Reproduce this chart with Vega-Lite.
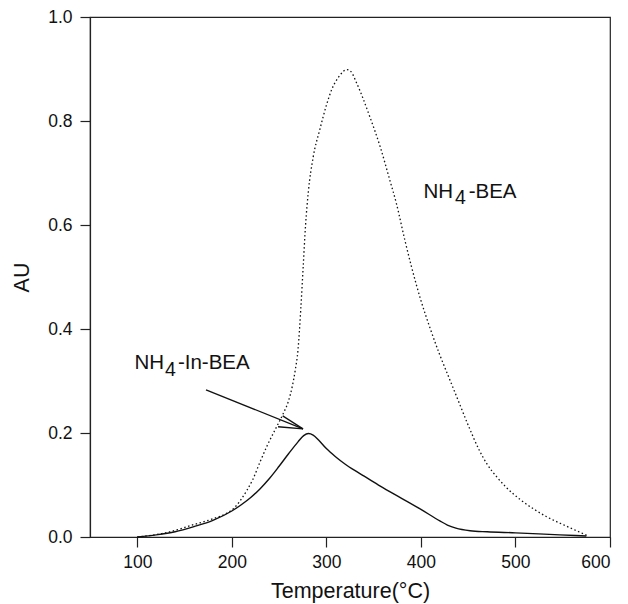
{
  "$schema": "https://vega.github.io/schema/vega-lite/v6.json",
  "width": 520,
  "height": 520,
  "autosize": {"type": "none"},
  "padding": {"left": 90, "top": 17, "right": 18, "bottom": 67},
  "background": "white",
  "config": {
    "font": "Liberation Sans",
    "view": {"stroke": "#222", "strokeWidth": 1.2},
    "axis": {
      "domainColor": "#222", "tickColor": "#222", "tickSize": 10, "tickWidth": 1.2, "domainWidth": 1.2,
      "labelFontSize": 17.5, "labelColor": "#111", "titleFontSize": 21.5, "titleFontWeight": "normal",
      "titleColor": "#111", "labelFont": "Liberation Sans", "titleFont": "Liberation Sans", "grid": false
    }
  },
  "datasets": {
    "bea": [
      {"T": 100, "AU": 0.0}, {"T": 130, "AU": 0.008}, {"T": 160, "AU": 0.024}, {"T": 180, "AU": 0.035},
      {"T": 195, "AU": 0.046}, {"T": 202, "AU": 0.055}, {"T": 209, "AU": 0.07}, {"T": 216, "AU": 0.09},
      {"T": 222, "AU": 0.11}, {"T": 230, "AU": 0.145}, {"T": 238, "AU": 0.178}, {"T": 246, "AU": 0.207},
      {"T": 254, "AU": 0.236}, {"T": 260, "AU": 0.262}, {"T": 264, "AU": 0.29}, {"T": 267, "AU": 0.32},
      {"T": 270, "AU": 0.36}, {"T": 273, "AU": 0.44}, {"T": 275.5, "AU": 0.52}, {"T": 278, "AU": 0.6},
      {"T": 281, "AU": 0.665}, {"T": 286, "AU": 0.73}, {"T": 293, "AU": 0.783}, {"T": 300, "AU": 0.83},
      {"T": 306, "AU": 0.862}, {"T": 314, "AU": 0.887}, {"T": 321.5, "AU": 0.899}, {"T": 326, "AU": 0.895},
      {"T": 332, "AU": 0.873}, {"T": 346, "AU": 0.808}, {"T": 357, "AU": 0.75}, {"T": 367, "AU": 0.687},
      {"T": 374, "AU": 0.642}, {"T": 383, "AU": 0.571}, {"T": 390, "AU": 0.52}, {"T": 400, "AU": 0.455},
      {"T": 410, "AU": 0.4}, {"T": 420, "AU": 0.35}, {"T": 430, "AU": 0.305}, {"T": 440, "AU": 0.26},
      {"T": 450, "AU": 0.215}, {"T": 462, "AU": 0.166}, {"T": 470, "AU": 0.14}, {"T": 480, "AU": 0.116},
      {"T": 490, "AU": 0.096}, {"T": 505, "AU": 0.072}, {"T": 520, "AU": 0.053}, {"T": 533, "AU": 0.039},
      {"T": 555, "AU": 0.02}, {"T": 577, "AU": 0.002}
    ],
    "inbea": [
      {"T": 100, "AU": 0.0}, {"T": 120, "AU": 0.004}, {"T": 140, "AU": 0.01}, {"T": 160, "AU": 0.02},
      {"T": 180, "AU": 0.032}, {"T": 200, "AU": 0.05}, {"T": 210, "AU": 0.062}, {"T": 220, "AU": 0.076},
      {"T": 230, "AU": 0.093}, {"T": 240, "AU": 0.113}, {"T": 250, "AU": 0.136}, {"T": 260, "AU": 0.16},
      {"T": 270, "AU": 0.183}, {"T": 276, "AU": 0.195}, {"T": 281, "AU": 0.199}, {"T": 286, "AU": 0.196},
      {"T": 292, "AU": 0.186}, {"T": 300, "AU": 0.17}, {"T": 310, "AU": 0.154}, {"T": 320, "AU": 0.14},
      {"T": 330, "AU": 0.128}, {"T": 340, "AU": 0.117}, {"T": 357, "AU": 0.098}, {"T": 380, "AU": 0.074},
      {"T": 400, "AU": 0.053}, {"T": 420, "AU": 0.031}, {"T": 428, "AU": 0.023}, {"T": 437, "AU": 0.017},
      {"T": 452, "AU": 0.012}, {"T": 470, "AU": 0.01}, {"T": 500, "AU": 0.008}, {"T": 547, "AU": 0.004},
      {"T": 575, "AU": 0.002}
    ],
    "arrow": [
      {"x": 172.7, "y": 0.283, "x2": 275.3, "y2": 0.208},
      {"x": 253.8, "y": 0.233, "x2": 275.3, "y2": 0.208},
      {"x": 248.9, "y": 0.212, "x2": 275.3, "y2": 0.208}
    ],
    "labels": [
      {"x": 97.1, "y": 0.3225, "text": "NH"},
      {"x": 143.0, "y": 0.3225, "text": "-In-BEA"},
      {"x": 402.8, "y": 0.652, "text": "NH"},
      {"x": 450.5, "y": 0.652, "text": "-BEA"}
    ],
    "subs": [
      {"x": 129.3, "y": 0.3225, "text": "4"},
      {"x": 436, "y": 0.652, "text": "4"}
    ]
  },
  "layer": [
    {
      "data": {"name": "bea"},
      "mark": {"type": "line", "color": "#111", "strokeWidth": 1.3, "strokeDash": [1.5, 2.5], "interpolate": "monotone"},
      "encoding": {
        "x": {"field": "T", "type": "quantitative", "scale": {"domain": [50, 600], "nice": false},
              "axis": {"values": [100, 200, 300, 400, 500, 600], "title": "Temperature(°C)", "labelPadding": 6, "titlePadding": 10}},
        "y": {"field": "AU", "type": "quantitative", "scale": {"domain": [0, 1], "nice": false},
              "axis": {"values": [0, 0.2, 0.4, 0.6, 0.8, 1.0], "format": ".1f", "title": "AU", "labelPadding": 8, "titlePadding": 14}}
      }
    },
    {
      "data": {"name": "inbea"},
      "mark": {"type": "line", "color": "#111", "strokeWidth": 1.4, "interpolate": "monotone"},
      "encoding": {
        "x": {"field": "T", "type": "quantitative"},
        "y": {"field": "AU", "type": "quantitative"}
      }
    },
    {
      "data": {"name": "arrow"},
      "mark": {"type": "rule", "color": "#111", "strokeWidth": 1.3},
      "encoding": {
        "x": {"field": "x", "type": "quantitative"},
        "y": {"field": "y", "type": "quantitative"},
        "x2": {"field": "x2"},
        "y2": {"field": "y2"}
      }
    },
    {
      "data": {"name": "labels"},
      "mark": {"type": "text", "align": "left", "baseline": "alphabetic", "fontSize": 20.5, "color": "#111", "font": "Liberation Sans"},
      "encoding": {
        "x": {"field": "x", "type": "quantitative"},
        "y": {"field": "y", "type": "quantitative"},
        "text": {"field": "text"}
      }
    },
    {
      "data": {"name": "subs"},
      "mark": {"type": "text", "align": "left", "baseline": "alphabetic", "fontSize": 19.5, "dy": 6.5, "color": "#111", "font": "Liberation Sans"},
      "encoding": {
        "x": {"field": "x", "type": "quantitative"},
        "y": {"field": "y", "type": "quantitative"},
        "text": {"field": "text"}
      }
    }
  ]
}
